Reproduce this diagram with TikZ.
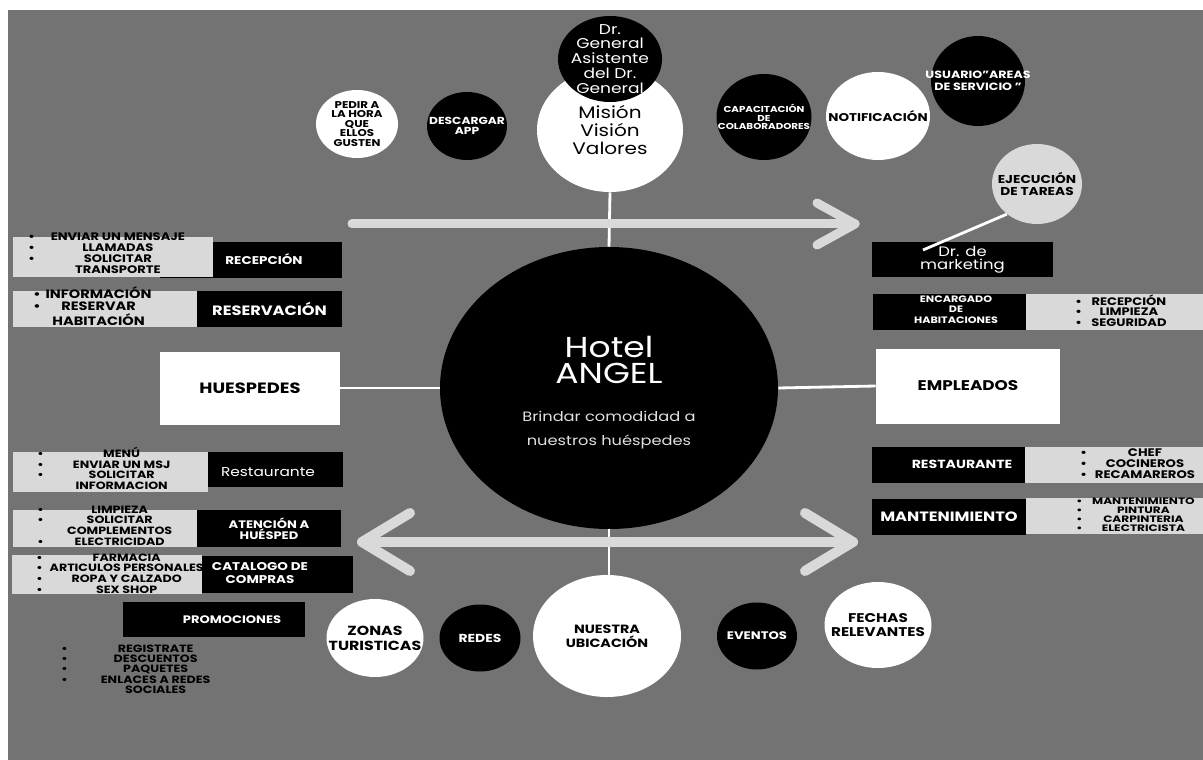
\documentclass[tikz,border=0pt]{standalone}
\usepackage{fontspec}
\setmainfont{Poppins}[FakeStretch=1.2]
\newfontfamily\widefont{Poppins}[FakeStretch=1.3]
\usepackage{array}
\usetikzlibrary{shapes.geometric}

\definecolor{slate}{HTML}{737373}
\definecolor{pale}{HTML}{D9D9D9}

\newlength{\px}
\setlength{\px}{0.02cm}
\newcommand{\fs}[2]{\fontsize{#1}{#2}\selectfont}
\newcommand{\blist}[2]{\begin{tabular}{@{}l@{}>{\centering\arraybackslash}p{#1\px}@{}}#2\end{tabular}}

\tikzset{
  bubble/.style={ellipse, inner sep=-40pt, align=center},
  wcirc/.style={bubble, fill=white, text=black},
  bcirc/.style={bubble, fill=black, text=white},
  gcirc/.style={bubble, fill=pale, text=black},
  bbox/.style={rectangle, fill=black, text=white, inner sep=0pt, align=center},
  wbox/.style={rectangle, fill=white, text=black, inner sep=0pt, align=center},
  gbox/.style={rectangle, fill=pale, inner sep=0pt},
  wtxt/.style={text=white, inner sep=0pt, align=center},
  items/.style={text=black, inner sep=0pt, anchor=west},
  link/.style={draw=white, line width=1.6pt},
  bigarrow/.style={draw=pale, line width=9\px, line cap=round, line join=round}
}

\begin{document}
\begin{tikzpicture}[x=0.02cm, y=-0.02cm]
% canvas
\fill[white] (0,0) rectangle (1203,760);
\fill[slate] (8,10) rectangle (1203,760);
\useasboundingbox (0,0) rectangle (1203,760);

% centre
\node[bcirc, minimum width=338\px, minimum height=282\px] (hotel) at (609,388) {};
\node[wtxt, font=\fs{16.4}{15}] (hotel-t) at (609,360) {Hotel\\ANGEL};
\node[wtxt, font=\fs{7.7}{13.3}, text=white!88!black] (hotel-s) at (609,430) {Brindar comodidad a\\nuestros huéspedes};

% top bubbles
\node[wcirc, minimum width=146\px, minimum height=124\px, font=\fs{9.5}{10.4}] (mision) at (610,130) {Misión\\Visión\\Valores};
\node[bcirc, minimum width=104\px, minimum height=86\px, font=\fs{8.1}{8.5}] (drgen) at (610,59) {Dr.\\General\\Asistente\\del Dr.\\General};
\node[wcirc, minimum width=82\px, minimum height=68\px, font=\bfseries\fs{5.6}{5.4}] (pedir) at (357,124) {PEDIR A\\LA HORA\\QUE\\ELLOS\\GUSTEN};
\node[bcirc, minimum width=80\px, minimum height=68\px, font=\bfseries\fs{5.8}{5.9}] (app) at (467,126) {DESCARGAR\\APP};
\node[bcirc, minimum width=95\px, minimum height=86\px, font=\bfseries\fs{4.9}{5}] (capac) at (764,117) {CAPACITACIÓN\\DE\\COLABORADORES};
\node[wcirc, minimum width=104\px, minimum height=88\px, font=\bfseries\fs{6.4}{8}] (notif) at (878,116) {NOTIFICACIÓN};
\node[bcirc, minimum width=94\px, minimum height=90\px, font=\bfseries\fs{6}{6.7}] (usuario) at (978,81) {USUARIO"AREAS\\DE SERVICIO "};
\node[gcirc, minimum width=90\px, minimum height=80\px, font=\bfseries\fs{6.5}{6.8}] (ejec) at (1037,184) {EJECUCIÓN\\DE TAREAS};

% right side
\node[bbox, minimum width=181\px, minimum height=35\px, font=\fs{7.8}{7.6}] (mkt) at (962.5,259.5) {Dr. de\\marketing};
\node[bbox, minimum width=153\px, minimum height=36\px] (encarg) at (949.5,312) {};
\node[wtxt, font=\bfseries\fs{5.3}{6}] (encarg-t) at (956,309.5) {ENCARGADO\\DE\\HABITACIONES};
\node[gbox, minimum width=177\px, minimum height=36\px] (encarg-l) at (1114.5,312) {};
\node[items, font=\bfseries\fs{6.2}{5.8}] (encarg-i) at (1075,312) {\blist{94}{•&RECEPCIÓN\\•&LIMPIEZA\\•&SEGURIDAD}};
\node[wbox, minimum width=184\px, minimum height=75\px, font=\bfseries\fs{8}{10}] (emple) at (968,386) {EMPLEADOS};
\node[bbox, minimum width=153\px, minimum height=36\px] (restR) at (948.5,465) {};
\node[wtxt, font=\bfseries\fs{6.7}{8}] (restR-t) at (962,464) {RESTAURANTE};
\node[gbox, minimum width=178\px, minimum height=36\px] (restR-l) at (1114,465) {};
\node[items, font=\bfseries\fs{6.25}{5.3}] (restR-i) at (1080,465) {\blist{116}{•&CHEF\\•&COCINEROS\\•&RECAMAREROS}};
\node[bbox, minimum width=154\px, minimum height=36\px, font=\bfseries\fs{7.7}{9}] (mantR) at (949,517) {MANTENIMIENTO};
\node[gbox, minimum width=177\px, minimum height=36\px] (mantR-l) at (1114.5,516) {};
\node[items, font=\widefont\bfseries\fs{5.3}{4.6}] (mantR-i) at (1076,516) {\blist{122}{•&MANTENIMIENTO\\•&PINTURA\\•&CARPINTERIA\\•&ELECTRICISTA}};

% left side
\node[bbox, minimum width=182\px, minimum height=36\px] (recep) at (251,260) {};
\node[gbox, minimum width=200\px, minimum height=40\px] (recep-l) at (113,257) {};
\node[wtxt, font=\bfseries\fs{6.4}{8}] (recep-t) at (264,259) {RECEPCIÓN};
\node[items, font=\bfseries\fs{6.2}{6}] (recep-i) at (28,255) {\blist{166}{•&ENVIAR UN MENSAJE\\•&LLAMADAS\\•&SOLICITAR\\&TRANSPORTE}};
\node[bbox, minimum width=145\px, minimum height=36\px, font=\bfseries\fs{7.7}{9}] (reserva) at (269.5,309) {RESERVACIÓN};
\node[gbox, minimum width=184\px, minimum height=36\px] (reserva-l) at (105,309) {};
\node[items, font=\bfseries\fs{6.9}{5.8}] (reserva-i) at (33,307.5) {\blist{116}{•&INFORMACIÓN\\•&RESERVAR\\&HABITACIÓN}};
\node[wbox, minimum width=180\px, minimum height=73\px, font=\bfseries\fs{8.5}{10}] (huesp) at (250,388) {HUESPEDES};
\node[bbox, minimum width=183\px, minimum height=35\px] (restL) at (251.5,469.5) {};
\node[gbox, minimum width=195\px, minimum height=40\px] (restL-l) at (110.5,472) {};
\node[wtxt, font=\fs{7.3}{9}] (restL-t) at (268,472) {Restaurante};
\node[items, font=\bfseries\fs{6}{5.9}] (restL-i) at (37,470) {\blist{156}{•&MENÚ\\•&ENVIAR UN MSJ\\•&SOLICITAR\\&INFORMACION}};
\node[bbox, minimum width=144\px, minimum height=37\px, font=\bfseries\fs{6.2}{6.2}] (atenc) at (269,528.5) {ATENCIÓN A\\HUÉSPED};
\node[gbox, minimum width=184\px, minimum height=37\px] (atenc-l) at (105,528.5) {};
\node[items, font=\bfseries\fs{6}{5.8}] (atenc-i) at (37,527) {\blist{152}{•&LIMPIEZA\\•&SOLICITAR\\&COMPLEMENTOS\\•&ELECTRICIDAD}};
\node[bbox, minimum width=151\px, minimum height=37\px] (catal) at (277.5,574.5) {};
\node[gbox, minimum width=190\px, minimum height=39\px] (catal-l) at (107,574.5) {};
\node[wtxt, font=\bfseries\fs{6.4}{7.5}] (catal-t) at (260,573) {CATALOGO DE\\COMPRAS};
\node[items, font=\bfseries\fs{6}{6}] (catal-i) at (36,575) {\blist{168}{•&FARMACIA\\•&ARTICULOS PERSONALES\\•&ROPA Y CALZADO\\•&SEX SHOP}};
\node[bbox, minimum width=182\px, minimum height=35\px] (promo) at (214,619.5) {};
\node[wtxt, font=\bfseries\fs{6.2}{8}] (promo-t) at (232,620) {PROMOCIONES};
\node[items, font=\bfseries\fs{6}{5.4}] (promo-i) at (61,670.5) {\blist{176}{•&REGISTRATE\\•&DESCUENTOS\\•&PAQUETES\\•&ENLACES A REDES\\&SOCIALES}};

% bottom bubbles
\node[wcirc, minimum width=97\px, minimum height=78\px, font=\bfseries\fs{7.5}{8.5}] (zonas) at (375,638) {ZONAS\\TURISTICAS};
\node[bcirc, minimum width=81\px, minimum height=67\px, font=\bfseries\fs{6.6}{7}] (redes) at (480,638) {REDES};
\node[wcirc, minimum width=148\px, minimum height=122\px, font=\bfseries\fs{6.8}{8}] (ubic) at (607,636) {NUESTRA\\UBICACIÓN};
\node[bcirc, minimum width=80\px, minimum height=67\px, font=\bfseries\fs{6.25}{7}] (eventos) at (757,636) {EVENTOS};
\node[wcirc, minimum width=107\px, minimum height=86\px, font=\bfseries\fs{7.2}{7.6}] (fechas) at (878,625) {FECHAS\\RELEVANTES};

% links
\draw[link] (mision.south) -- (hotel.north);
\draw[link] (hotel.south) -- (hotel.south |- ubic.north);
\draw[link] (huesp.east) -- (hotel.west);
\draw[link] (hotel.east) -- (emple.west);
\coordinate (mkt-pin) at (923,250);
\draw[link] (ejec.225) -- (mkt-pin);

% big arrows
\coordinate (top-from) at (352,224);
\coordinate (top-to) at (855,224);
\draw[bigarrow] (top-from) -- (top-to);
\draw[bigarrow] ([shift={(-38,-21)}]top-to) -- (top-to) -- ([shift={(-38,21)}]top-to);
\coordinate (bot-l) at (362,542);
\coordinate (bot-r) at (853,542);
\draw[bigarrow, line width=10\px] (bot-l) -- (bot-r);
\draw[bigarrow, line width=10\px] ([shift={(48,-29)}]bot-l) -- (bot-l) -- ([shift={(48,29)}]bot-l);
\draw[bigarrow, line width=10\px] ([shift={(-48,-29)}]bot-r) -- (bot-r) -- ([shift={(-48,29)}]bot-r);
\end{tikzpicture}
\end{document}
